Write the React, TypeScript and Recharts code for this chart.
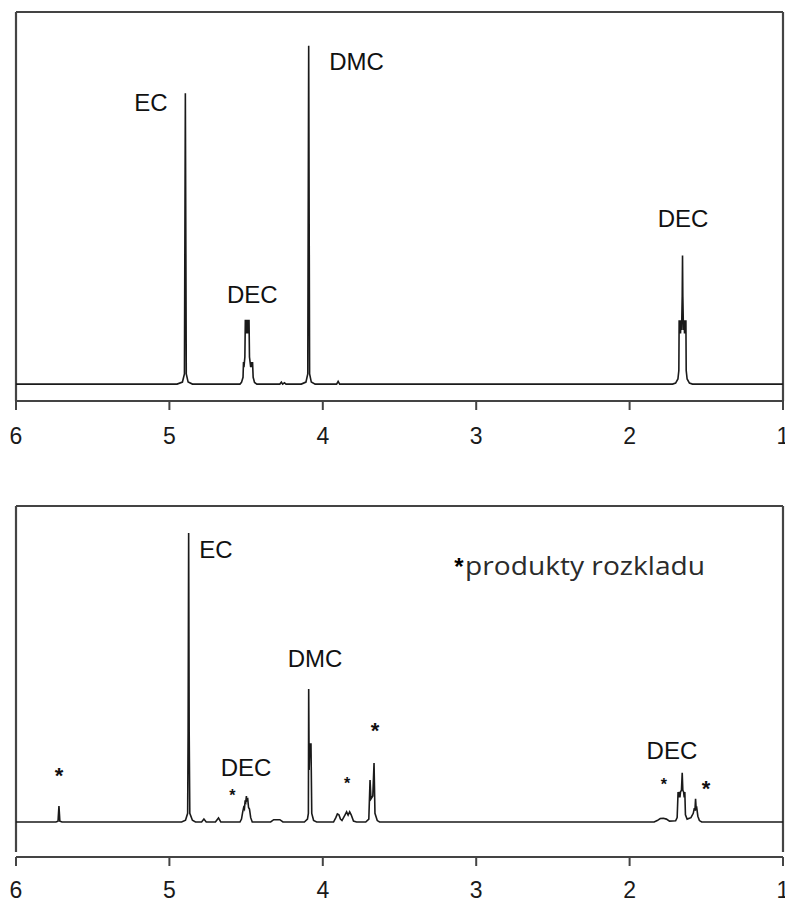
import React from "react"
import { LineChart, Line, XAxis, YAxis, ReferenceLine, ReferenceDot } from "recharts"

// ppm / intensity vertices
const topSpectrum = [
  [6.0, 0], [4.95, 0], [4.915, 0.6], [4.902, 3], [4.896, 86], [4.89, 3], [4.878, 0.6], [4.85, 0],
  [4.54, 0], [4.53, 0.5], [4.52, 2], [4.517, 6.5], [4.514, 5], [4.511, 6.5], [4.508, 8], [4.505, 19], [4.501, 15],
  [4.497, 19], [4.493, 15], [4.489, 19], [4.485, 15], [4.481, 19], [4.478, 8], [4.474, 6.5], [4.47, 5],
  [4.466, 6.5], [4.462, 5], [4.458, 6.5], [4.454, 2], [4.445, 0.5], [4.43, 0],
  [4.28, 0], [4.27, 0.6], [4.262, 0], [4.25, 0.4], [4.24, 0],
  [4.14, 0], [4.11, 0.6], [4.098, 3], [4.092, 100], [4.086, 3], [4.075, 0.6], [4.05, 0],
  [3.91, 0], [3.9, 0.8], [3.89, 0],
  [1.72, 0], [1.7, 0.3], [1.685, 1.5], [1.679, 4], [1.677, 18.9], [1.674, 15], [1.671, 18.9], [1.668, 15],
  [1.665, 18.9], [1.661, 16], [1.657, 26], [1.655, 38], [1.653, 26], [1.649, 16], [1.645, 18.9], [1.642, 15],
  [1.639, 18.9], [1.636, 15], [1.633, 18.9], [1.631, 4], [1.625, 1.5], [1.61, 0.3], [1.59, 0],
  [1.0, 0],
]

const bottomSpectrum = [
  [6.0, 0], [5.74, 0], [5.726, 0.3], [5.72, 5.5], [5.714, 0.3], [5.7, 0],
  [4.92, 0], [4.895, 0.6], [4.881, 3], [4.878, 31], [4.8745, 100], [4.871, 31], [4.867, 3], [4.85, 0.6], [4.83, 0],
  [4.79, 0], [4.775, 1], [4.76, 0], [4.7, 0], [4.68, 1.4], [4.665, 0],
  [4.54, 0], [4.53, 1], [4.522, 3.5], [4.516, 5], [4.511, 4.5], [4.506, 7.5], [4.502, 7], [4.498, 9],
  [4.494, 7.5], [4.489, 7.8], [4.484, 5], [4.478, 4.5], [4.47, 1.5], [4.46, 0],
  [4.34, 0], [4.32, 0.8], [4.28, 0.8], [4.26, 0],
  [4.12, 0], [4.1, 1], [4.094, 3], [4.092, 46], [4.089, 18], [4.084, 27], [4.077, 27], [4.072, 3], [4.06, 0.5], [4.04, 0],
  [3.93, 0], [3.915, 1.5], [3.905, 2.8], [3.895, 2.5], [3.885, 1], [3.875, 0.5], [3.855, 2.5], [3.845, 3.5],
  [3.835, 2.4], [3.825, 3.5], [3.815, 2.5], [3.8, 0.3], [3.78, 0],
  [3.72, 0], [3.7, 1], [3.692, 14.5], [3.686, 8], [3.674, 9], [3.666, 20.4], [3.66, 3], [3.645, 0.5], [3.63, 0],
  [1.84, 0], [1.82, 0.5], [1.8, 1.2], [1.78, 1.3], [1.76, 1], [1.74, 0.3], [1.7, 0.4], [1.69, 1.5],
  [1.684, 10.4], [1.68, 8.5], [1.676, 10.4], [1.672, 8.5], [1.668, 10.4], [1.662, 11], [1.657, 17], [1.653, 11],
  [1.648, 10.4], [1.644, 8.5], [1.64, 10.4], [1.636, 2.5], [1.625, 1], [1.6, 1.5], [1.585, 3], [1.578, 4.8],
  [1.574, 4], [1.57, 8], [1.566, 4.5], [1.562, 4.8], [1.555, 2], [1.545, 0.5], [1.53, 0],
  [1.0, 0],
]

const ppmTicks = [6, 5, 4, 3, 2, 1]

const topLabels = [
  { text: "EC", ppm: 5.12, v: 83.4 },
  { text: "DMC", ppm: 3.78, v: 95.5 },
  { text: "DEC", ppm: 4.46, v: 26.6 },
  { text: "DEC", ppm: 1.652, v: 49.1 },
]

const bottomLabels = [
  { text: "EC", ppm: 4.696, v: 94.5 },
  { text: "DMC", ppm: 4.051, v: 56.7 },
  { text: "DEC", ppm: 4.5, v: 19 },
  { text: "DEC", ppm: 1.724, v: 24.9 },
]

const stars = [
  { ppm: 5.72, v: 18, big: true },
  { ppm: 4.589, v: 10.4, big: false },
  { ppm: 3.842, v: 14.5, big: false },
  { ppm: 3.66, v: 33.6, big: true },
  { ppm: 1.776, v: 14.2, big: false },
  { ppm: 1.502, v: 13.3, big: true },
]

const legendText = "produkty rozkladu"

const FONT = "'Liberation Sans', Arial, sans-serif"
const FRAME = "#444"

const toRows = (pts: number[][]) => pts.map(([ppm, v]) => ({ ppm, v }))

const PeakTag = (props: any) => {
  const { viewBox, text, size = 24, lift = 0.36, weight = "normal" } = props
  if (!viewBox) return null
  return (
    <text
      x={viewBox.x}
      y={viewBox.y + size * lift}
      textAnchor="middle"
      fontSize={size}
      fontWeight={weight}
      fontFamily={FONT}
      fill="#111"
    >
      {text}
    </text>
  )
}

const LegendTag = (props: any) => {
  const { viewBox } = props
  if (!viewBox) return null
  const { x, y } = viewBox
  return (
    <g>
      <text x={x} y={y + 24 * 0.58} textAnchor="middle" fontSize={24} fontWeight="bold" fontFamily={FONT} fill="#000">
        *
      </text>
      <text
        x={x + 6}
        y={y + 14}
        fontSize={26}
        fontFamily="'Open Sans', sans-serif"
        fill="#2b2b2b"
        textLength={240}
        lengthAdjust="spacingAndGlyphs"
      >
        {legendText}
      </text>
    </g>
  )
}

interface PanelProps {
  rows: { ppm: number; v: number }[]
  yDomain: [number, number]
  frameLow: number
  top: number
  height: number
  marginTop: number
  axisHeight: number
  tickMargin: number
  children?: React.ReactNode
}

const Panel = ({ rows, yDomain, frameLow, top, height, marginTop, axisHeight, tickMargin, children }: PanelProps) => {
  const [, yMax] = yDomain
  return (
    <div style={{ position: "absolute", left: 0, top }}>
      <LineChart width={785} height={height} data={rows} margin={{ top: marginTop, right: 2, bottom: 0, left: 16 }}>
        <XAxis
          dataKey="ppm"
          type="number"
          domain={[1, 6]}
          reversed
          ticks={ppmTicks}
          interval={0}
          height={axisHeight}
          tickSize={9}
          tickMargin={tickMargin}
          axisLine={{ stroke: FRAME, strokeWidth: 2 }}
          tickLine={{ stroke: FRAME, strokeWidth: 2 }}
          tick={{ fontSize: 23, fill: "#1a1a1a", fontFamily: FONT }}
        />
        <YAxis hide type="number" domain={yDomain} allowDataOverflow />
        <ReferenceLine y={yMax} stroke={FRAME} strokeWidth={2.2} />
        <ReferenceLine segment={[{ x: 6, y: frameLow }, { x: 6, y: yMax }]} stroke={FRAME} strokeWidth={2.2} />
        <ReferenceLine segment={[{ x: 1, y: frameLow }, { x: 1, y: yMax }]} stroke={FRAME} strokeWidth={2.2} />
        <Line
          type="linear"
          dataKey="v"
          stroke="#1a1a1a"
          strokeWidth={1.6}
          dot={false}
          activeDot={false}
          isAnimationActive={false}
        />
        {children}
      </LineChart>
    </div>
  )
}

const App = () => {
  return (
    <div style={{ position: "absolute", left: 0, top: 0, width: 785, height: 902, background: "#fff" }}>
      <Panel
        rows={toRows(topSpectrum)}
        yDomain={[-5, 110]}
        frameLow={-5}
        top={0}
        height={460}
        marginTop={12}
        axisHeight={59}
        tickMargin={18}
      >
        {topLabels.map((l, i) => (
          <ReferenceDot key={"t" + i} x={l.ppm} y={l.v} r={0} fill="none" stroke="none" label={<PeakTag text={l.text} />} />
        ))}
      </Panel>
      <Panel
        rows={toRows(bottomSpectrum)}
        yDomain={[-12.11, 109.34]}
        frameLow={-10.38}
        top={450}
        height={452}
        marginTop={56}
        axisHeight={45}
        tickMargin={16}
      >
        {bottomLabels.map((l, i) => (
          <ReferenceDot key={"b" + i} x={l.ppm} y={l.v} r={0} fill="none" stroke="none" label={<PeakTag text={l.text} />} />
        ))}
        {stars.map((s, i) => (
          <ReferenceDot
            key={"s" + i}
            x={s.ppm}
            y={s.v}
            r={0}
            fill="none"
            stroke="none"
            label={<PeakTag text="*" size={s.big ? 22 : 16} lift={0.58} weight="bold" />}
          />
        ))}
        <ReferenceDot x={3.112} y={90.3} r={0} fill="none" stroke="none" label={<LegendTag />} />
      </Panel>
    </div>
  )
}

export default App
